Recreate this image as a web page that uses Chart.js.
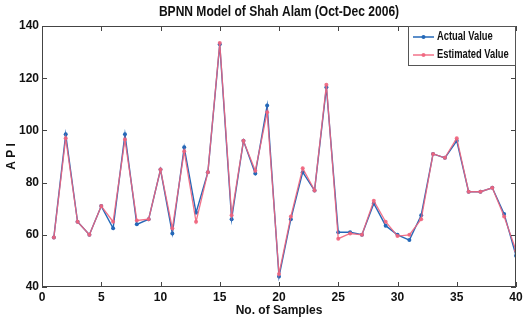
<!DOCTYPE html>
<html>
<head>
<meta charset="utf-8">
<script src="https://cdn.jsdelivr.net/npm/chart.js@4"></script>
<style>
  body { margin: 0; background: #fff; }
  #wrap { width: 526px; height: 320px; }
</style>
</head>
<body>
<div id="wrap"><canvas id="c" width="526" height="320"></canvas></div>
<script>
// values
const samples = [1,2,3,4,5,6,7,8,9,10,11,12,13,14,15,16,17,18,19,20,21,22,23,24,25,26,27,28,29,30,31,32,33,34,35,36,37,38,39,40];
const actualValue = [59,98.5,65,60,71,62.5,98.5,64,66,85,60.5,93.5,68.5,84,133,66,96,83.5,109.5,44,66,84,77,116.5,61,61,60,72,63.5,60,58,67.5,91,89.5,96,76.5,76.5,78,68,52];
const estimatedValue = [59,97,65,60,71,65,96.5,65.5,66,85,62.5,92,65,84,133.5,67.5,96,84.5,107,45,67,85.5,77,117.5,58.5,60.5,60,73,65,59.5,60,66,91,89.5,97,76.5,76.5,78,67,54];
const xTicks = [0,5,10,15,20,25,30,35,40];
const yTicks = [40,60,80,100,120,140];
const chartTitle = 'BPNN Model of Shah Alam (Oct-Dec 2006)';

const FONT = '"Liberation Sans", Arial, sans-serif';

// draw text squeezed horizontally, the original uses a narrow face
function narrowText(ctx, text, x, y, sx, align) {
  ctx.save();
  ctx.translate(x, y);
  ctx.scale(sx, 1);
  ctx.textAlign = align;
  ctx.fillText(text, 0, 0);
  ctx.restore();
}

const boxAndTicks = {
  id: 'boxAndTicks',
  afterDraw(chart) {
    const { ctx, chartArea: a, scales } = chart;
    ctx.save();
    ctx.strokeStyle = '#444';
    ctx.lineWidth = 1;
    ctx.strokeRect(a.left + 0.5, a.top + 0.5, a.right - a.left - 1, a.bottom - a.top - 1);
    ctx.beginPath();
    xTicks.forEach(v => {
      const x = Math.round(scales.x.getPixelForValue(v)) + 0.5;
      ctx.moveTo(x, a.bottom); ctx.lineTo(x, a.bottom - 5);
      ctx.moveTo(x, a.top); ctx.lineTo(x, a.top + 5);
    });
    yTicks.forEach(v => {
      const y = Math.round(scales.y.getPixelForValue(v)) + 0.5;
      ctx.moveTo(a.left, y); ctx.lineTo(a.left + 5, y);
      ctx.moveTo(a.right, y); ctx.lineTo(a.right - 5, y);
    });
    ctx.stroke();

    // title
    ctx.fillStyle = '#111';
    ctx.textBaseline = 'middle';
    ctx.font = 'bold 14px ' + FONT;
    narrowText(ctx, chartTitle, (a.left + a.right) / 2, 12, 0.86, 'center');

    // legend box, top right inside the axes
    const w = 108, h = 40;
    const lx = a.right - w, ly = a.top;
    ctx.fillStyle = '#fff';
    ctx.fillRect(lx, ly, w, h);
    ctx.strokeStyle = '#555';
    ctx.strokeRect(lx + 0.5, ly + 0.5, w - 1, h - 1);
    ctx.font = 'bold 12px ' + FONT;
    chart.data.datasets.forEach((ds, i) => {
      const y = ly + 11 + i * 18;
      ctx.strokeStyle = ds.borderColor;
      ctx.lineWidth = 1.5;
      ctx.beginPath();
      ctx.moveTo(lx + 5, y); ctx.lineTo(lx + 26, y);
      ctx.stroke();
      ctx.fillStyle = ds.borderColor;
      ctx.beginPath();
      ctx.arc(lx + 15.5, y, 2, 0, Math.PI * 2);
      ctx.fill();
      ctx.fillStyle = '#111';
      narrowText(ctx, ds.label, lx + 29, y, 0.78, 'left');
    });
    ctx.restore();
  }
};

new Chart(document.getElementById('c'), {
  type: 'line',
  data: {
    labels: samples,
    datasets: [
      {
        label: 'Actual Value',
        data: samples.map((s, i) => ({ x: s, y: actualValue[i] })),
        borderColor: '#2468b8',
        backgroundColor: '#2468b8',
        borderWidth: 1.4,
        pointRadius: 2,
        pointBorderWidth: 0,
        tension: 0,
        order: 2
      },
      {
        label: 'Estimated Value',
        data: samples.map((s, i) => ({ x: s, y: estimatedValue[i] })),
        borderColor: 'rgba(240,100,125,0.9)',
        backgroundColor: 'rgba(240,100,125,0.9)',
        borderWidth: 1.3,
        pointRadius: 2,
        pointBorderWidth: 0,
        tension: 0,
        order: 1
      }
    ]
  },
  options: {
    responsive: false,
    animation: false,
    layout: { padding: { left: 4, right: 10, top: 26, bottom: 2 } },
    plugins: {
      legend: { display: false },
      tooltip: { enabled: false },
      title: { display: false }
    },
    scales: {
      x: {
        type: 'linear',
        min: 0, max: 40,
        afterFit: s => { s.height = 31; },
        afterBuildTicks: s => { s.ticks = xTicks.map(v => ({ value: v })); },
        grid: { display: false, drawTicks: false },
        border: { display: false },
        ticks: { color: '#111', padding: 3, font: { family: FONT, size: 12, weight: 'bold' } },
        title: { display: true, text: 'No. of Samples', color: '#111', padding: 0,
                 font: { family: FONT, size: 12, weight: 'bold' } }
      },
      y: {
        min: 40, max: 140,
        afterFit: s => { s.width = 38; },
        afterBuildTicks: s => { s.ticks = yTicks.map(v => ({ value: v })); },
        grid: { display: false, drawTicks: false },
        border: { display: false },
        ticks: { color: '#111', padding: 3, font: { family: FONT, size: 12, weight: 'bold' } },
        title: { display: true, text: 'A P I', color: '#111', padding: 0,
                 font: { family: FONT, size: 12, weight: 'bold' } }
      }
    }
  },
  plugins: [boxAndTicks]
});
</script>
</body>
</html>
